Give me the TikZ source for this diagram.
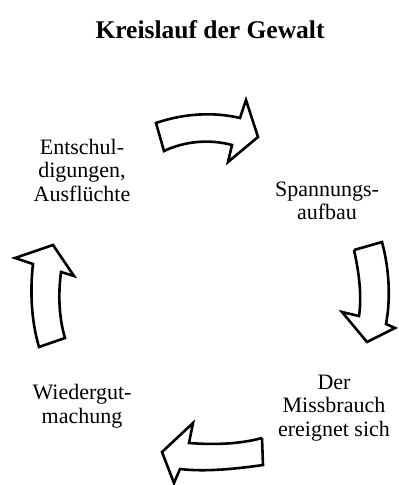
\documentclass[tikz,border=0pt]{standalone}
\usepackage{fontspec}
\setmainfont{Liberation Serif}
\begin{document}
\begin{tikzpicture}[x=1pt,y=-1pt,
  cyclearrow/.style={draw=black,fill=white,line width=2.6pt,line join=miter},
  phase/.style={align=center,font=\fontsize{22}{23.5}\selectfont,inner sep=0pt},
  heading/.style={font=\fontsize{25.5}{28}\selectfont\bfseries,inner sep=0pt}]
\useasboundingbox (0,0) rectangle (399,485);

\node[heading] (title) at (210,30) {Kreislauf der Gewalt};

% the four phases of the cycle
\node[phase] (excuses) at (82,170) {Entschul-\\digungen,\\Ausflüchte};
\node[phase] (tension) at (327,201) {Spannungs-\\aufbau};
\node[phase] (abuse)   at (334,408) {Der\\Missbrauch\\ereignet sich};
\node[phase] (amends)  at (82,406)  {Wiedergut-\\machung};

% top arrow, pointing right
\draw[cyclearrow] (156,123) .. controls (185,113) and (215,112) .. (240,118)
  -- (246,100) -- (258,137) -- (228,162) -- (232,145)
  .. controls (210,139) and (185,141) .. (164,151) -- cycle;

% right arrow, pointing down
\draw[cyclearrow] (354,250) -- (382,242)
  .. controls (389,268) and (391,298) .. (386,324)
  -- (395,328) -- (367,342) -- (342,312) -- (359,316)
  .. controls (362,296) and (359,272) .. (354,250);

% bottom arrow, pointing left
\draw[cyclearrow] (262,438) -- (263,465)
  .. controls (235,469) and (205,472) .. (180,469)
  -- (174,483) -- (162,452) -- (193,423) -- (189,443)
  .. controls (215,445) and (240,444) .. (262,438);

% left arrow, pointing up
\draw[cyclearrow] (39,347) .. controls (31,320) and (30,290) .. (33,264)
  -- (15,258) -- (53,245) -- (74,276) -- (61,272)
  .. controls (58,295) and (59,318) .. (65,338) -- cycle;
\end{tikzpicture}
\end{document}
